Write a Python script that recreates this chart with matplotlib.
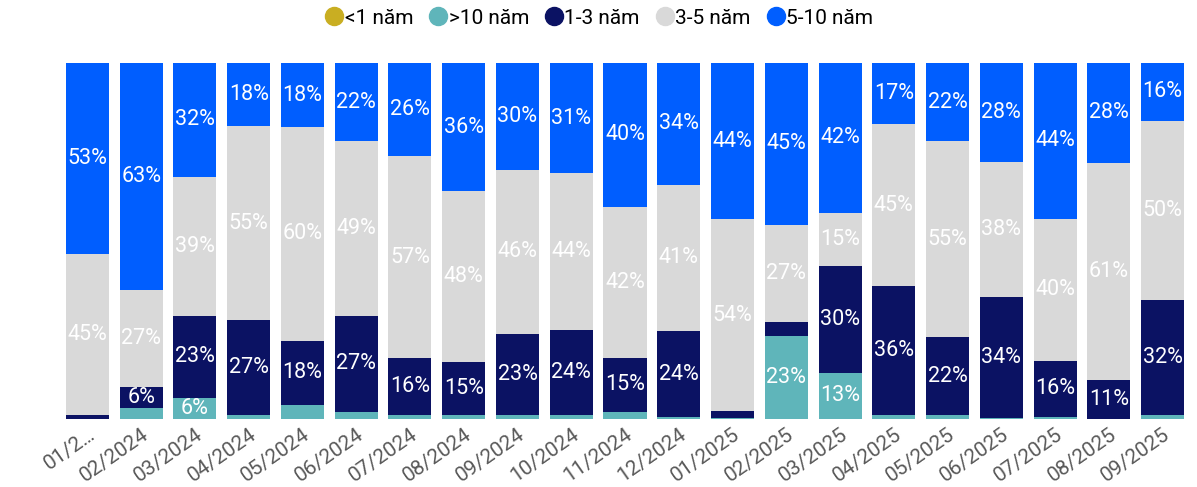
import numpy as np
import matplotlib.pyplot as plt
from matplotlib.lines import Line2D

plt.rcParams['font.family'] = ['Roboto', 'DejaVu Sans']

months = ['01/2…', '02/2024', '03/2024', '04/2024', '05/2024', '06/2024', '07/2024',
          '08/2024', '09/2024', '10/2024', '11/2024', '12/2024', '01/2025', '02/2025',
          '03/2025', '04/2025', '05/2025', '06/2025', '07/2025', '08/2025', '09/2025']

# share of each tenure group per month (%), bottom to top
lt1 = [0] * 21
gt10 = [0, 3, 6, 1, 4, 2, 1, 1, 1, 1, 2, 0.5, 0.3, 23, 13, 1, 1, 0.3, 0.5, 0, 1]
y1_3 = [1, 6, 23, 27, 18, 27, 16, 15, 23, 24, 15, 24, 2, 4, 30, 36, 22, 34, 16, 11, 32]
y3_5 = [45, 27, 39, 55, 60, 49, 57, 48, 46, 44, 42, 41, 54, 27, 15, 45, 55, 38, 40, 61, 50]
y5_10 = [53, 63, 32, 18, 18, 22, 26, 36, 30, 31, 40, 34, 44, 45, 42, 17, 22, 28, 44, 28, 16]

series = [('<1 năm', lt1, '#C9AE22'),
          ('>10 năm', gt10, '#5FB5BA'),
          ('1-3 năm', y1_3, '#0B1263'),
          ('3-5 năm', y3_5, '#D9D9D9'),
          ('5-10 năm', y5_10, '#005EFF')]

vals = np.array([s[1] for s in series], dtype=float)
totals = vals.sum(axis=0)
shares = vals / totals * 100

fig = plt.figure(figsize=(11.97, 4.87), dpi=100)
ax = fig.add_axes([60.6 / 1197, 1 - 419 / 487, (1189.4 - 60.6) / 1197, 356 / 487])

x = np.arange(len(months))
bottom = np.zeros(len(months))
for (name, raw, color), h in zip(series, shares):
    ax.bar(x, h, bottom=bottom, width=0.8, color=color, linewidth=0)
    for i, v in enumerate(raw):
        if v >= 5:
            ax.text(x[i], bottom[i] + h[i] / 2, f'{v:.0f}%', ha='center', va='center',
                    color='white', fontsize=15.5)
    bottom += h

ax.set_xlim(-0.5, len(months) - 0.5)
ax.set_ylim(0, 100)
ax.set_yticks([])
ax.set_xticks(x)
ax.set_xticklabels(months, rotation=35, ha='right', rotation_mode='anchor',
                   fontsize=15, color='#595959')
ax.tick_params(axis='x', length=0, pad=4)
for sp in ax.spines.values():
    sp.set_visible(False)

handles = [Line2D([], [], marker='o', linestyle='', markersize=13,
                  markerfacecolor=c, markeredgecolor=c) for _, _, c in series]
fig.legend(handles, [s[0] for s in series], loc='center', bbox_to_anchor=(0.5, 1 - 18 / 487),
           ncol=5, frameon=False, fontsize=15, handletextpad=0.0, columnspacing=0.7,
           handlelength=1.0)

fig.savefig('out.png', dpi=100)
